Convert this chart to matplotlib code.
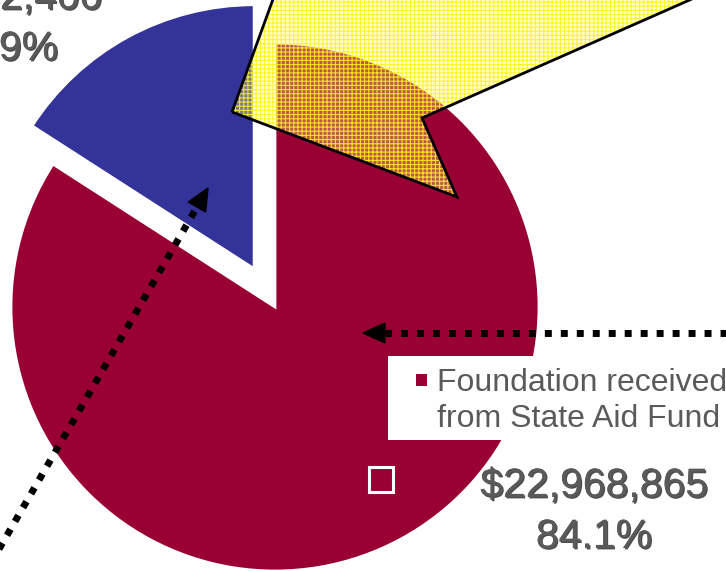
import numpy as np
import matplotlib
matplotlib.use("Agg")
import matplotlib.pyplot as plt
from matplotlib.patches import Polygon, Rectangle
import matplotlib.patheffects as pe

# values
values = [22968865, 4342400]
colors = ["#990033", "#333399"]
legend_lines = ["Foundation received", "from State Aid Fund"]

plt.rcParams['font.family'] = ['Liberation Sans', 'DejaVu Sans']
plt.rcParams['hatch.linewidth'] = 0.8

W, H = 726, 571
fig = plt.figure(figsize=(W / 100, H / 100), dpi=100)
ax = fig.add_axes([0, 0, 1, 1])

# pie in pixel coords (y down, so the angles run the other way)
center = (275, 307)
radius = 264
explode = [0.0, 0.165 * radius]  # pie explode is in data units
wedges, _ = ax.pie(values, colors=colors, explode=explode, startangle=-90,
                   counterclock=True, center=center, radius=radius,
                   wedgeprops=dict(edgecolor="white", linewidth=2))
ax.set_xlim(0, W)
ax.set_ylim(H, 0)
ax.set_aspect("equal")
ax.axis("off")

# yellow callout with grid pattern
callout = [(232, 112), (280, -20), (735, -20), (422, 118), (457, 197)]
ax.add_patch(Polygon(callout, closed=True, facecolor=(1, 1, 0.45, 0.35),
                     edgecolor="none", zorder=5))
ax.add_patch(Polygon(callout, closed=True, facecolor="none", hatch="++++",
                     edgecolor=(1, 0.95, 0.1, 0.9), linewidth=0, zorder=5))
ax.add_patch(Polygon(callout, closed=True, facecolor="none",
                     edgecolor="black", linewidth=2, zorder=6))


def dotted_arrow(tail, tip):
    tail = np.array(tail, float)
    tip = np.array(tip, float)
    u = (tip - tail) / np.linalg.norm(tip - tail)
    n = np.array([-u[1], u[0]])
    head_len, half_w = 22, 10
    base = tip - head_len * u
    ax.plot([tail[0], base[0]], [tail[1], base[1]], color="black", lw=5,
            linestyle=(0, (1, 1.3)), dash_capstyle="butt", zorder=7)
    ax.add_patch(Polygon([tip, base + half_w * n, base - half_w * n],
                         closed=True, color="black", zorder=7))


dotted_arrow((-5, 556), (208, 188))
dotted_arrow((740, 333), (363, 333))

# legend box
ax.add_patch(Rectangle((388, 356), 360, 84, facecolor="white",
                       edgecolor="none", zorder=8))
ax.add_patch(Rectangle((416, 374), 11, 12, facecolor=colors[0],
                       edgecolor="none", zorder=9))
ax.text(437, 391, legend_lines[0], fontsize=23, color="#5a5a5a",
        ha="left", va="baseline", zorder=9)
ax.text(437, 427, legend_lines[1], fontsize=23, color="#5a5a5a",
        ha="left", va="baseline", zorder=9)

# hollow white square marker
ax.add_patch(Rectangle((369, 467), 24, 25, facecolor="none",
                       edgecolor="white", linewidth=2.2, zorder=9))

# value labels
total = sum(values)
label_pos = [(594, 497), (0, 9)]
fx = [pe.withSimplePatchShadow(offset=(1, -1), shadow_rgbFace="#222222",
                               alpha=0.8), pe.Normal()]
for v, (x, y) in zip(values, label_pos):
    ax.text(x, y, f"${v:,.0f}", fontsize=29.5, color="#5a5a5a", ha="center",
            va="baseline", path_effects=fx, zorder=9)
    ax.text(x, y + 51, f"{100 * v / total:.1f}%", fontsize=29.5,
            color="#5a5a5a", ha="center", va="baseline", path_effects=fx,
            zorder=9)

fig.savefig("out.png", dpi=100)
